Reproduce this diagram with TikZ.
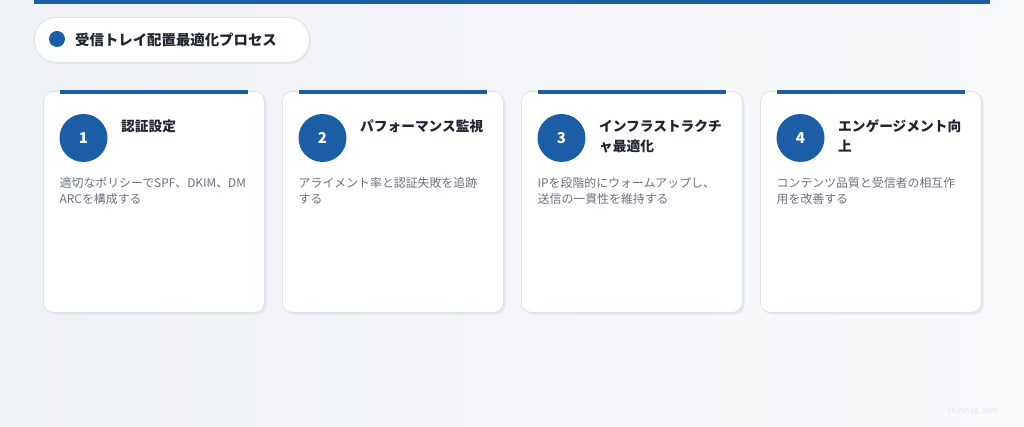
\documentclass[tikz,border=0pt]{standalone}
\usepackage{fontspec}
\setmainfont{Noto Sans CJK JP}
\usetikzlibrary{positioning}
\definecolor{mainblue}{HTML}{1B5EA6}
\definecolor{bgA}{HTML}{EEF1F5}
\definecolor{bgB}{HTML}{F8F9FB}
\definecolor{cardborder}{HTML}{DCE2EA}
\definecolor{cardshadow}{HTML}{E4E8EE}
\definecolor{titletext}{HTML}{1F2430}
\definecolor{desctext}{HTML}{6B7280}
\definecolor{wmark}{HTML}{E3E6EA}
\tikzset{
  cardbox/.style={draw=cardborder, line width=0.8pt, fill=white, rounded corners=10pt, minimum width=221pt, minimum height=221pt, anchor=north west, inner sep=0pt},
  cardshade/.style={fill=cardshadow, rounded corners=10pt},
  accent/.style={fill=mainblue},
  numcircle/.style={circle, fill=mainblue, minimum size=48pt, inner sep=0pt, text=white, font=\fontsize{15}{18}\selectfont\bfseries},
  cardtitle/.style={anchor=base west, inner sep=0pt, text width=130pt, align=left, text=titletext, font=\fontsize{13.7}{19.5}\selectfont\bfseries},
  carddesc/.style={anchor=base west, inner sep=0pt, text width=200pt, align=left, text=desctext, font=\fontsize{11.9}{16}\selectfont},
  pill/.style={draw=cardborder, line width=0.8pt, fill=white, rounded corners=22pt, minimum width=275pt, minimum height=45pt, anchor=north west, inner sep=0pt},
}
\begin{document}
\begin{tikzpicture}[x=1pt,y=-1pt]
\useasboundingbox (0,0) rectangle (1024,427);
\shade[left color=bgA, right color=bgB] (0,0) rectangle (1024,427);
% top bar
\fill[mainblue] (34,0) rectangle (990,4);
% title pill
\fill[cardshadow, rounded corners=22pt] (36,19) rectangle (311,64);
\node[pill] (pillbox) at (34,17) {};
\node[circle, fill=mainblue, minimum size=16pt, inner sep=0pt] (dot) at (57,39) {};
\node[anchor=base west, inner sep=0pt, text=titletext, font=\fontsize{14.4}{17}\selectfont\bfseries] (ptitle) at (75,45.5) {受信トレイ配置最適化プロセス};
% cards
\foreach \i/\x/\t/\d in {
  1/43/{認証設定}/{適切なポリシーでSPF、DKIM、DM\\ARCを構成する},
  2/282/{パフォーマンス監視}/{アライメント率と認証失敗を追跡\\する},
  3/521/{インフラストラクチ\\ャ最適化}/{IPを段階的にウォームアップし、\\送信の一貫性を維持する},
  4/760/{エンゲージメント向\\上}/{コンテンツ品質と受信者の相互作\\用を改善する}}{
  \fill[cardshade] (\x+2.5,93) rectangle (\x+223.5,314.5);
  \node[cardbox] (card\i) at (\x,91) {};
  \fill[accent] (\x+17,90.5) rectangle (\x+205,94);
  \node[numcircle] (num\i) at (\x+40.5,138) {\i};
  \node[cardtitle] (title\i) at (\x+78,132) {\t};
  \node[carddesc] (desc\i) at (\x+16.5,187.5) {\d};
}
% watermark
\node[text=wmark, font=\fontsize{8.5}{10}\selectfont, inner sep=0pt] (wm) at (973,411) {skysnag.com};
\end{tikzpicture}
\end{document}
